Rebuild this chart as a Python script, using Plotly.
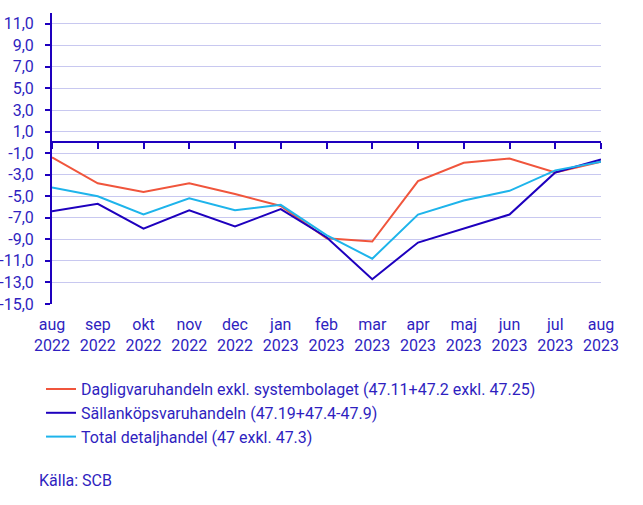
import plotly.graph_objects as go

# Data
months = ["aug<br>2022", "sep<br>2022", "okt<br>2022", "nov<br>2022", "dec<br>2022",
          "jan<br>2023", "feb<br>2023", "mar<br>2023", "apr<br>2023", "maj<br>2023",
          "jun<br>2023", "jul<br>2023", "aug<br>2023"]

dagligvaror = [-1.4, -3.8, -4.6, -3.8, -4.8, -5.9, -8.9, -9.2, -3.6, -1.9, -1.5, -2.8, -1.8]
sallankop = [-6.4, -5.7, -8.0, -6.3, -7.8, -6.2, -8.8, -12.7, -9.3, -8.0, -6.7, -2.8, -1.6]
total = [-4.2, -5.0, -6.7, -5.2, -6.3, -5.8, -8.6, -10.8, -6.7, -5.4, -4.5, -2.6, -1.8]

series_names = [
    "Dagligvaruhandeln exkl. systembolaget (47.11+47.2 exkl. 47.25)",
    "Sällanköpsvaruhandeln (47.19+47.4-47.9)",
    "Total detaljhandel (47 exkl. 47.3)",
]

y_ticks = list(range(-15, 12, 2))
y_ticktext = [f"{v:.1f}".replace(".", ",") for v in y_ticks]

BLUE = "#1e00be"
TEXT = "#2f1fc0"
RED = "#f0553c"
CYAN = "#1eb4eb"
GRID = "#c8c8f0"
FONT = "Roboto"

x_idx = list(range(len(months)))

fig = go.Figure()
for name, vals, col in zip(series_names, [dagligvaror, sallankop, total], [RED, BLUE, CYAN]):
    fig.add_trace(go.Scatter(
        x=x_idx, y=vals, name=name, mode="lines",
        line=dict(color=col, width=2),
    ))

y_min, y_max = -15, 12

fig.update_layout(
    width=643, height=505,
    margin=dict(l=52, r=42, t=13, b=201, autoexpand=False),
    plot_bgcolor="white",
    paper_bgcolor="white",
    font=dict(family=FONT, size=16, color=TEXT),
    showlegend=True,
    legend=dict(
        x=-0.02, y=-0.234, xanchor="left", yanchor="top",
        font=dict(family=FONT, size=16, color=TEXT),
        bgcolor="rgba(0,0,0,0)",
    ),
    # category labels at the bottom of the plot
    xaxis=dict(
        range=[0, len(months) - 1],
        tickmode="array", tickvals=x_idx, ticktext=months,
        showline=False, showgrid=False, zeroline=False,
        ticks="outside", ticklen=6, tickcolor="rgba(0,0,0,0)",
        tickfont=dict(family=FONT, size=16, color=TEXT),
        automargin=False,
    ),
    # axis line and tick marks crossing at y = 0
    xaxis2=dict(
        overlaying="x", anchor="free",
        position=(0 - y_min) / (y_max - y_min),
        range=[0, len(months) - 1],
        tickmode="array", tickvals=x_idx,
        showticklabels=False,
        showline=True, linecolor=BLUE, linewidth=2,
        ticks="outside", ticklen=6, tickwidth=2, tickcolor=BLUE,
        showgrid=False, zeroline=False, side="bottom",
    ),
    yaxis=dict(
        range=[y_min, y_max],
        tickmode="array", tickvals=y_ticks, ticktext=y_ticktext,
        showgrid=True, gridcolor=GRID, gridwidth=1,
        zeroline=False,
        showline=True, linecolor=BLUE, linewidth=2,
        ticks="outside", ticklen=5, tickwidth=2, tickcolor=BLUE,
        ticklabelstandoff=8,
        tickfont=dict(family=FONT, size=16, color=TEXT),
        automargin=False,
    ),
)

# invisible trace so xaxis2 gets drawn
fig.add_trace(go.Scatter(x=[0], y=[0], xaxis="x2", mode="markers",
                         marker=dict(opacity=0), showlegend=False, hoverinfo="skip"))

fig.add_annotation(
    text="Källa: SCB", xref="paper", yref="paper",
    x=-0.028, y=-0.608, xanchor="left", yanchor="middle",
    showarrow=False, font=dict(family=FONT, size=16, color=TEXT),
)

# drop the default 8px body margin so the figure sits at the page corner
fig.write_html("out.html", config={"displayModeBar": False},
               post_script="document.body.style.margin='0';")
